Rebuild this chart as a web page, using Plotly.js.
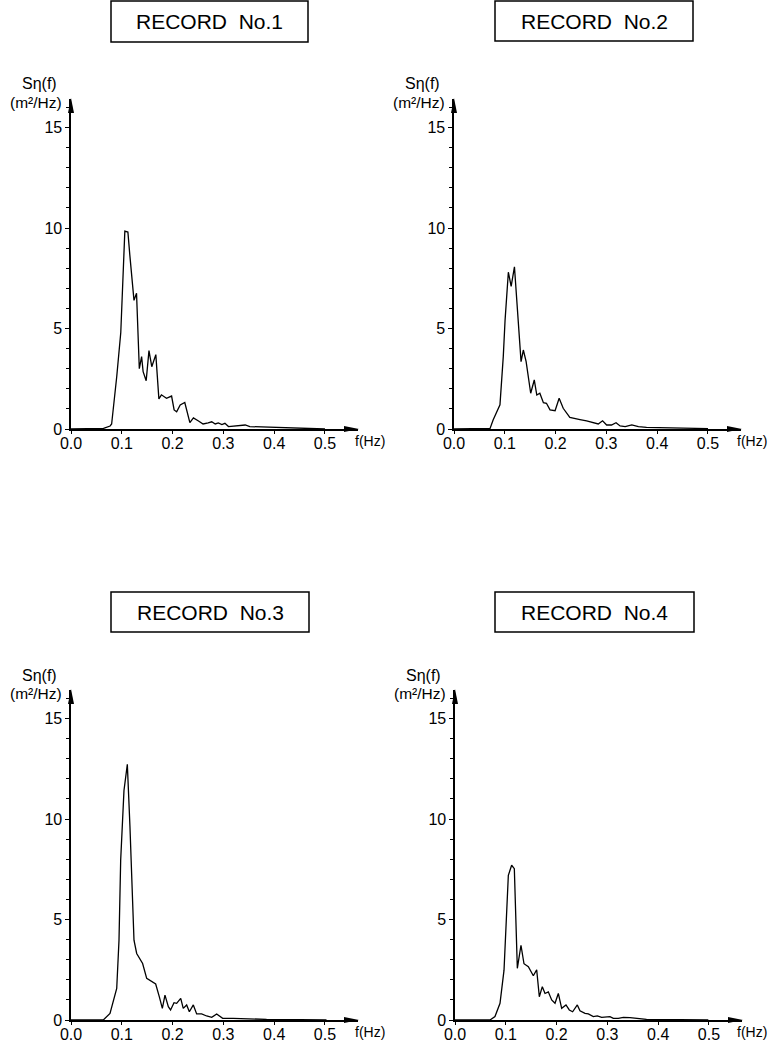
<!DOCTYPE html>
<html>
<head>
<meta charset="utf-8">
<script src="https://cdn.plot.ly/plotly-3.0.1.min.js"></script>
<style>html,body{margin:0;padding:0;background:#fff;}#chart{width:769px;height:1046px;}</style>
</head>
<body>
<div id="chart"></div>
<script>
// ---- data ----
const titles = ["RECORD\u00a0\u00a0No.1", "RECORD\u00a0\u00a0No.2", "RECORD\u00a0\u00a0No.3", "RECORD\u00a0\u00a0No.4"];

const f1 = [0, 0.064, 0.077, 0.080, 0.090, 0.095, 0.098, 0.106, 0.112, 0.116, 0.124, 0.129, 0.1345, 0.139, 0.142, 0.148, 0.1535, 0.159, 0.167, 0.173, 0.178, 0.188, 0.198, 0.203, 0.208, 0.215, 0.224, 0.234, 0.241, 0.251, 0.260, 0.270, 0.277, 0.284, 0.290, 0.297, 0.303, 0.310, 0.326, 0.343, 0.352, 0.372, 0.398, 0.425, 0.464, 0.50];
const S1 = [0, 0.03, 0.15, 0.25, 2.6, 3.9, 4.8, 9.85, 9.8, 8.6, 6.4, 6.75, 3.0, 3.6, 2.85, 2.4, 3.9, 3.1, 3.7, 1.5, 1.7, 1.53, 1.64, 0.95, 0.86, 1.2, 1.32, 0.32, 0.55, 0.4, 0.25, 0.31, 0.36, 0.25, 0.3, 0.22, 0.28, 0.12, 0.17, 0.2, 0.12, 0.1, 0.08, 0.05, 0.02, 0.0];

const f2 = [0, 0.071, 0.077, 0.084, 0.0905, 0.097, 0.1005, 0.107, 0.1125, 0.119, 0.1245, 0.132, 0.1365, 0.142, 0.151, 0.158, 0.163, 0.169, 0.176, 0.182, 0.189, 0.199, 0.207, 0.215, 0.228, 0.2415, 0.248, 0.261, 0.274, 0.284, 0.2925, 0.3005, 0.310, 0.319, 0.327, 0.337, 0.350, 0.363, 0.379, 0.399, 0.425, 0.458, 0.50];
const S2 = [0, 0.03, 0.45, 0.86, 1.2, 3.6, 5.4, 7.8, 7.1, 8.07, 5.84, 3.35, 3.93, 3.35, 1.78, 2.44, 1.69, 1.78, 1.31, 1.28, 0.95, 0.91, 1.53, 1.03, 0.58, 0.48, 0.47, 0.4, 0.31, 0.25, 0.41, 0.2, 0.2, 0.31, 0.15, 0.12, 0.2, 0.12, 0.08, 0.07, 0.05, 0.03, 0.02];

const f3 = [0, 0.0636, 0.0768, 0.0833, 0.090, 0.0945, 0.0978, 0.1043, 0.1109, 0.1161, 0.1207, 0.124, 0.1293, 0.1358, 0.141, 0.149, 0.1588, 0.1667, 0.1738, 0.1798, 0.185, 0.1916, 0.196, 0.2028, 0.208, 0.216, 0.221, 0.2277, 0.233, 0.2408, 0.2474, 0.2572, 0.267, 0.277, 0.2868, 0.2986, 0.3195, 0.346, 0.385, 0.4508, 0.503];
const S3 = [0, 0, 0.33, 1.0, 1.57, 3.97, 7.95, 11.42, 12.72, 9.6, 6.29, 3.97, 3.31, 3.06, 2.81, 2.07, 1.9, 1.79, 1.16, 0.58, 1.24, 0.66, 0.5, 0.86, 0.83, 1.08, 0.58, 0.75, 0.41, 0.75, 0.3, 0.3, 0.2, 0.13, 0.3, 0.08, 0.08, 0.05, 0.03, 0.02, 0];

const f4 = [0, 0.0689, 0.0787, 0.0886, 0.0965, 0.105, 0.1115, 0.1168, 0.1227, 0.1299, 0.1358, 0.1444, 0.1542, 0.1608, 0.166, 0.1719, 0.1772, 0.1837, 0.1903, 0.1969, 0.2034, 0.21, 0.2185, 0.225, 0.2316, 0.2408, 0.246, 0.256, 0.2625, 0.2723, 0.2802, 0.2887, 0.305, 0.3117, 0.3215, 0.3314, 0.3445, 0.3576, 0.377, 0.443, 0.4987];
const S4 = [0, 0, 0.17, 0.83, 2.48, 7.2, 7.7, 7.53, 2.57, 3.72, 2.8, 2.65, 2.2, 2.5, 1.16, 1.66, 1.32, 1.4, 1.0, 0.83, 1.32, 0.58, 0.75, 0.5, 0.41, 0.75, 0.46, 0.33, 0.3, 0.17, 0.2, 0.13, 0.17, 0.08, 0.08, 0.13, 0.12, 0.07, 0.03, 0.02, 0];

const xTickVals = [0, 0.1, 0.2, 0.3, 0.4, 0.5];
const xTickText = ["0.0", "0.1", "0.2", "0.3", "0.4", "0.5"];
const yTickVals = [0, 5, 10, 15];
const yTickText = ["0", "5", "10", "15"];
const yLabel1 = "S\u03b7(f)";
const yLabel2 = "(m\u00b2/Hz)";
const xLabel = "f(Hz)";

const freqs = [f1, f2, f3, f4];
const spectra = [S1, S2, S3, S4];

// ---- layout geometry (pixels) ----
const W = 769, H = 1046;
const XMAX = 0.565, YMAX = 16.42;
const XLEN = 287, YLEN = 330;
const panels = [
  {ax: 71, ay0: 429, box: [111, 1, 308, 42]},
  {ax: 454, ay0: 429, box: [495, 1, 693, 41]},
  {ax: 71, ay0: 1020, box: [111, 592, 309, 632]},
  {ax: 455, ay0: 1020, box: [495, 592, 694, 632]}
];
const FONT = "Liberation Sans, Arial, sans-serif";
const px = v => v / W;
const py = v => 1 - v / H;

const data = [];
const layout = {
  width: W, height: H,
  margin: {l: 0, r: 0, t: 0, b: 0},
  paper_bgcolor: "#fff", plot_bgcolor: "rgba(0,0,0,0)",
  showlegend: false,
  font: {family: FONT, color: "#000", size: 16},
  shapes: [], annotations: []
};

panels.forEach((p, i) => {
  const n = i + 1;
  const xa = n === 1 ? "xaxis" : "xaxis" + n;
  const ya = n === 1 ? "yaxis" : "yaxis" + n;
  const xr = n === 1 ? "x" : "x" + n;
  const yr = n === 1 ? "y" : "y" + n;
  data.push({
    x: freqs[i], y: spectra[i], xaxis: xr, yaxis: yr,
    type: "scatter", mode: "lines",
    line: {color: "#000", width: 1.3},
    cliponaxis: false, hoverinfo: "skip"
  });
  layout[xa] = {
    domain: [px(p.ax), px(p.ax + XLEN)], range: [0, XMAX], anchor: yr,
    showgrid: false, zeroline: false, showline: true, linecolor: "#000", linewidth: 1.6,
    tickmode: "array", tickvals: xTickVals, ticktext: xTickText,
    ticks: "outside", ticklen: 3, tickwidth: 1, tickcolor: "#000",
    ticklabelstandoff: -4,
    tickfont: {family: FONT, size: 16, color: "#000"}, fixedrange: true
  };
  layout[ya] = {
    domain: [py(p.ay0), py(p.ay0 - YLEN)], range: [0, YMAX], anchor: xr,
    showgrid: false, zeroline: false, showline: true, linecolor: "#000", linewidth: 1.6,
    tickmode: "array", tickvals: yTickVals, ticktext: yTickText,
    ticks: "outside", ticklen: 4, tickwidth: 1, tickcolor: "#000",
    minor: {tickmode: "linear", tick0: 0, dtick: 1, ticks: "outside", ticklen: 3, tickwidth: 1, tickcolor: "#000", showgrid: false},
    tickfont: {family: FONT, size: 16, color: "#000"}, fixedrange: true
  };
  // arrowheads
  layout.shapes.push({
    type: "path", xref: "paper", yref: "paper", xsizemode: "pixel", ysizemode: "pixel",
    xanchor: px(p.ax + XLEN), yanchor: py(p.ay0),
    path: "M1,0 L-14,3 L-14,-3 Z", fillcolor: "#000", line: {width: 0}
  });
  layout.shapes.push({
    type: "path", xref: "paper", yref: "paper", xsizemode: "pixel", ysizemode: "pixel",
    xanchor: px(p.ax), yanchor: py(p.ay0 - YLEN),
    path: "M0,1 L-3,-14 L3,-14 Z", fillcolor: "#000", line: {width: 0}
  });
  // title box
  layout.shapes.push({
    type: "rect", xref: "paper", yref: "paper",
    x0: px(p.box[0]), x1: px(p.box[2]), y0: py(p.box[3]), y1: py(p.box[1]),
    line: {color: "#000", width: 1.5}, fillcolor: "rgba(0,0,0,0)"
  });
  layout.annotations.push({
    xref: "paper", yref: "paper", x: px((p.box[0] + p.box[2]) / 2), y: py((p.box[1] + p.box[3]) / 2),
    text: titles[i], showarrow: false, xanchor: "center", yanchor: "middle",
    font: {family: FONT, size: 21, color: "#000"}
  });
  // axis labels
  layout.annotations.push({
    xref: "paper", yref: "paper", x: px(p.ax - 32), y: py(p.ay0 - 345),
    text: yLabel1, showarrow: false, xanchor: "center", yanchor: "middle",
    font: {family: FONT, size: 16, color: "#000"}
  });
  layout.annotations.push({
    xref: "paper", yref: "paper", x: px(p.ax - 35), y: py(p.ay0 - 327),
    text: yLabel2, showarrow: false, xanchor: "center", yanchor: "middle",
    font: {family: FONT, size: 15.5, color: "#000"}
  });
  layout.annotations.push({
    xref: "paper", yref: "paper", x: px(Math.min(p.ax + XLEN + 28, W - 1)), y: py(p.ay0 + 12),
    text: xLabel, showarrow: false, xanchor: "right", yanchor: "middle",
    borderpad: 0,
    font: {family: FONT, size: 14, color: "#000"}
  });
});

Plotly.newPlot("chart", data, layout, {staticPlot: true, displayModeBar: false});
</script>
</body>
</html>
